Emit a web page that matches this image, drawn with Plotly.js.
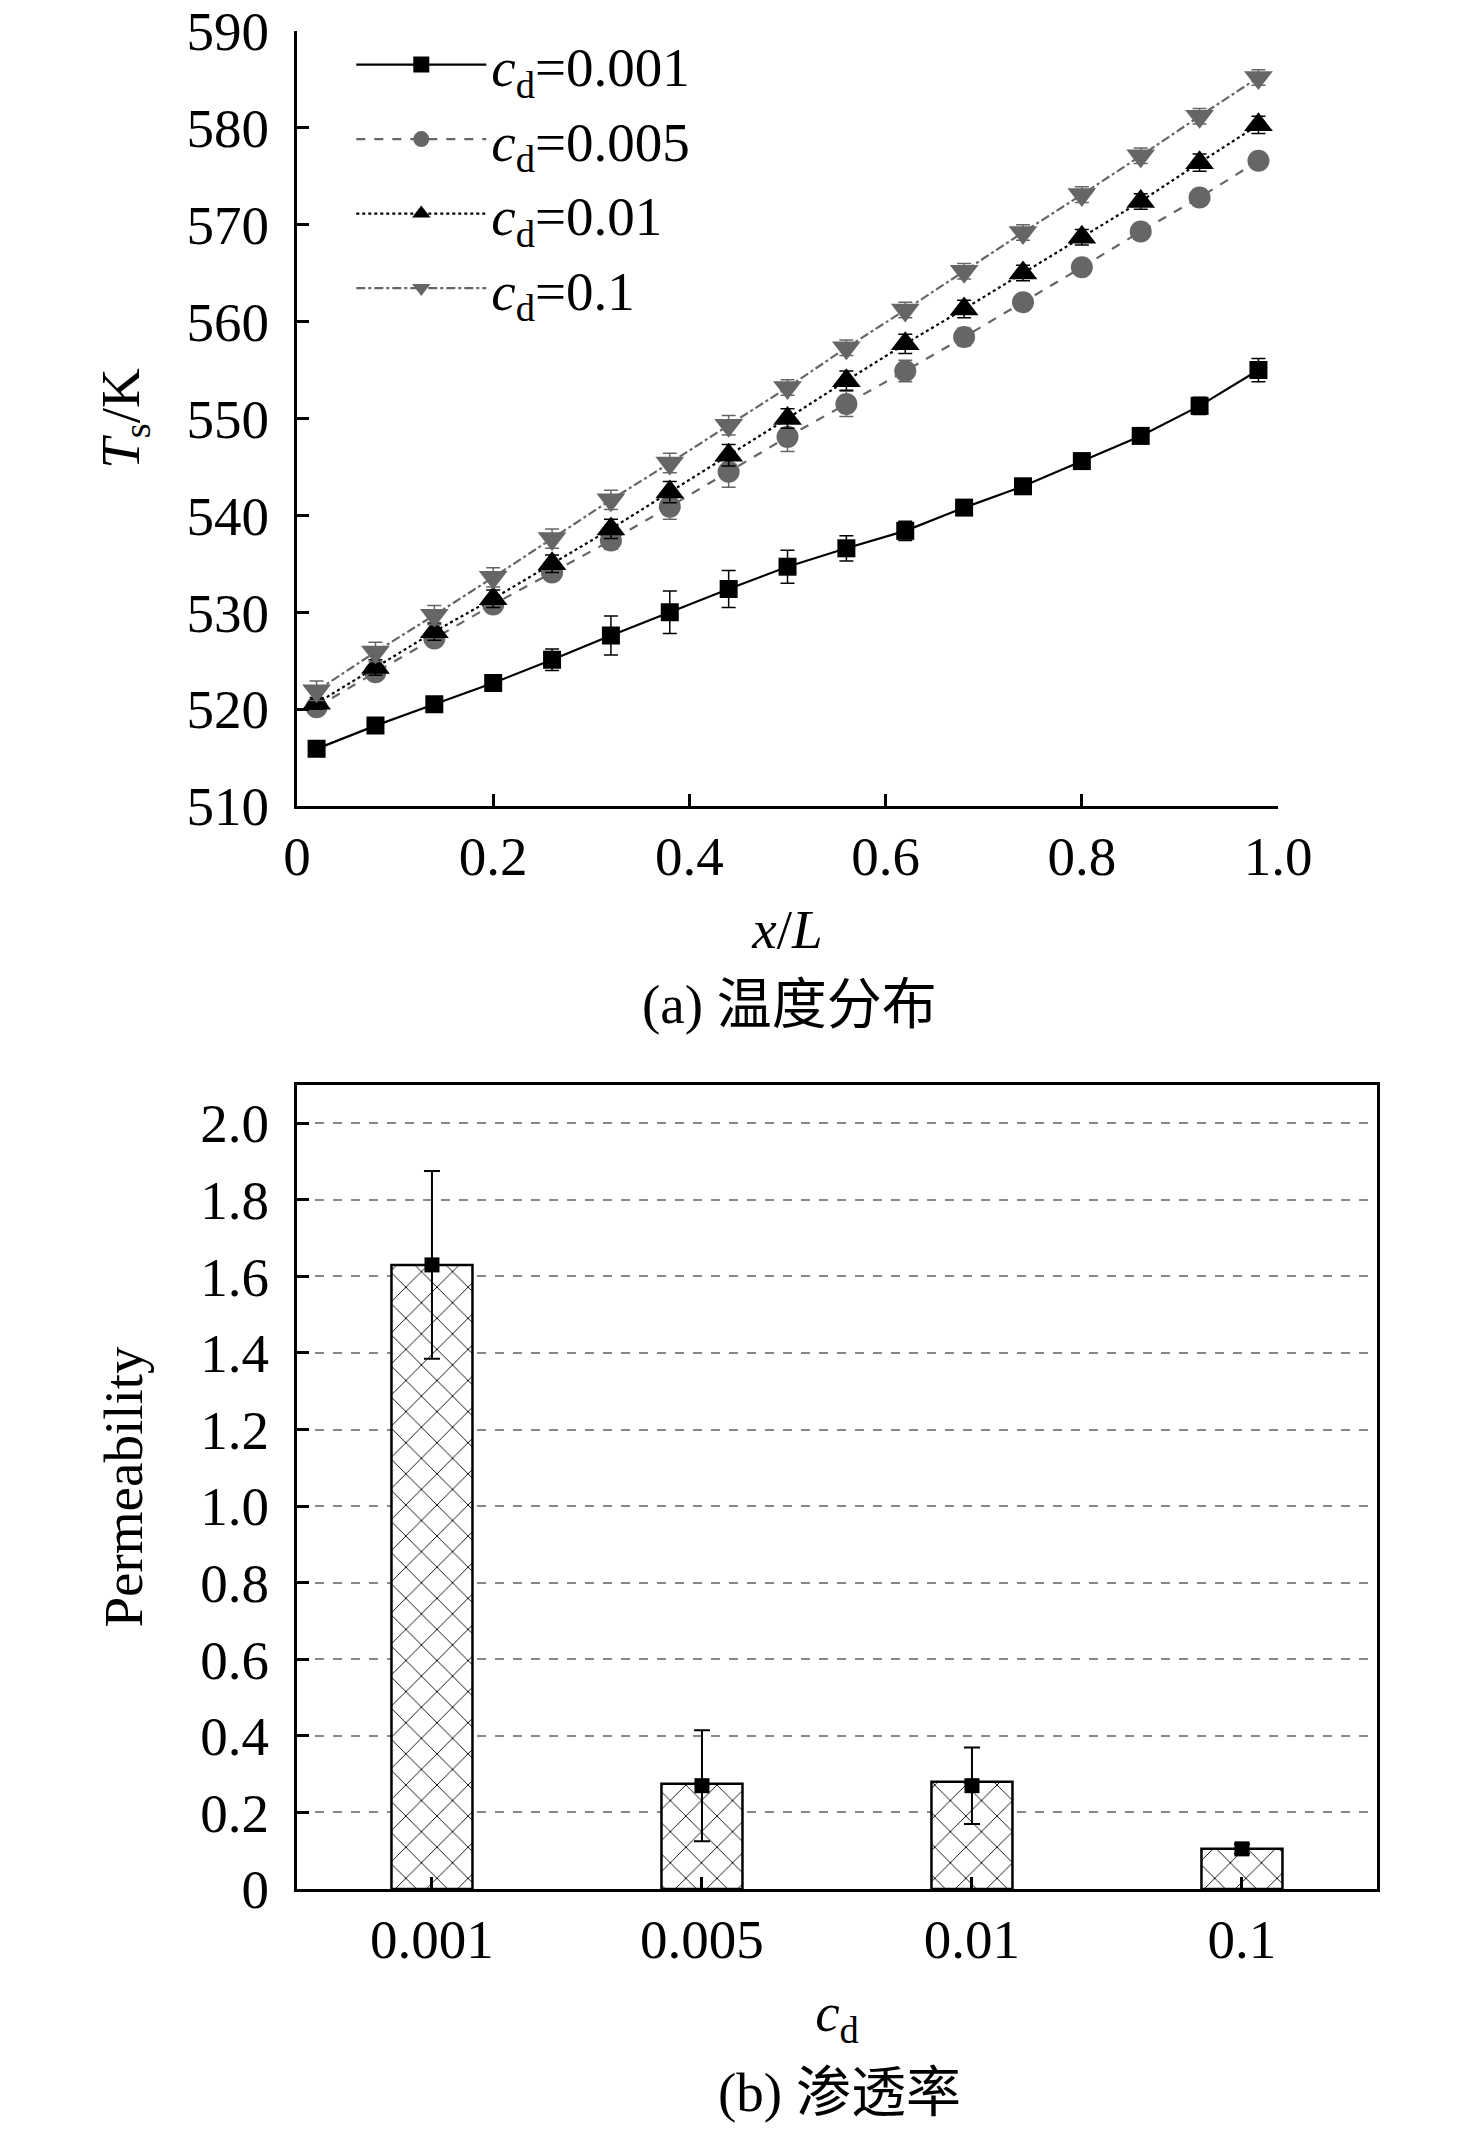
<!DOCTYPE html>
<html>
<head>
<meta charset="utf-8">
<script src="https://cdn.plot.ly/plotly-3.0.1.min.js"></script>
<style>html,body{margin:0;padding:0;background:#fff;}#chart{width:1476px;height:2129px;}</style>
</head>
<body>
<div id="chart"></div>
<script>
// ---------- Data: (a) temperature distribution ----------
const xPos = [0.02,0.08,0.14,0.20,0.26,0.32,0.38,0.44,0.50,0.56,0.62,0.68,0.74,0.80,0.86,0.92,0.98];
const seriesNames = ["<i>c</i><sub>d</sub>=0.001","<i>c</i><sub>d</sub>=0.005","<i>c</i><sub>d</sub>=0.01","<i>c</i><sub>d</sub>=0.1"];
const ts001  = [515.9,518.3,520.5,522.7,525.1,527.6,530.0,532.4,534.7,536.6,538.4,540.8,543.0,545.6,548.2,551.3,555.0];
const ts005  = [520.2,523.8,527.3,530.8,534.1,537.4,540.9,544.5,548.1,551.5,554.9,558.4,562.0,565.6,569.3,572.8,576.6];
const ts01   = [520.6,524.3,528.0,531.4,535.0,538.6,542.4,546.2,550.0,553.9,557.7,561.3,565.0,568.7,572.4,576.4,580.3];
const ts1    = [521.9,525.9,529.7,533.6,537.6,541.6,545.4,549.3,553.2,557.3,561.2,565.2,569.2,573.1,577.1,581.2,585.2];
const err001 = [0.3,0.4,0.4,0.4,1.1,2.0,2.2,1.9,1.7,1.3,1.0,0.6,0.4,0.4,0.5,0.9,1.2];
const err005 = [0.5,0.7,0.8,0.6,0.8,0.9,1.3,1.6,1.5,1.3,1.1,0.9,0.8,0.6,0.5,0.5,0.4];
const err01  = [0.6,0.8,0.9,0.9,0.9,1.0,1.1,1.1,1.0,1.0,1.0,0.9,0.8,0.8,0.8,0.9,0.9];
const err1   = [1.0,1.0,1.0,1.0,1.0,1.0,1.0,1.0,0.8,0.8,0.8,0.8,0.8,0.8,0.8,0.8,0.8];
const xTickVals = [0,0.2,0.4,0.6,0.8,1.0];
const xTickText = ["0","0.2","0.4","0.6","0.8","1.0"];
const yTickVals = [510,520,530,540,550,560,570,580,590];

// ---------- Data: (b) permeability ----------
const cdCats = ["0.001","0.005","0.01","0.1"];
const perm   = [1.63,0.275,0.28,0.105];
const permMean = [1.63,0.27,0.27,0.105];
const permErr  = [0.245,0.145,0.10,0.012];
const pTickVals = [0,0.2,0.4,0.6,0.8,1.0,1.2,1.4,1.6,1.8,2.0];
const pTickText = ["0","0.2","0.4","0.6","0.8","1.0","1.2","1.4","1.6","1.8","2.0"];

const FONT = "Liberation Serif, Noto Sans CJK SC, serif";
const GRAY = "#666666";
const FS = 55;
const styles = [
  {color:"#000000", dash:"solid",   symbol:"square",        size:18, data:ts001, err:err001},
  {color:GRAY,      dash:"dash",    symbol:"circle",        size:22, data:ts005, err:err005},
  {color:"#000000", dash:"dot",     symbol:"triangle-up",   size:25, data:ts01,  err:err01},
  {color:GRAY,      dash:"dashdot", symbol:"triangle-down", size:25, data:ts1,   err:err1}
];

const traces = styles.map((s,i)=>({
  type:"scatter", mode:"lines+markers", x:xPos, y:s.data, name:seriesNames[i],
  xaxis:"x", yaxis:"y",
  line:{color:s.color, dash:s.dash, width:2.2},
  marker:{symbol:s.symbol, size:s.size, color:s.color},
  error_y:{type:"data", array:s.err, visible:true, color:s.color, thickness:1.5, width:7}
}));

traces.push({
  type:"bar", x:cdCats, y:perm, xaxis:"x2", yaxis:"y2", showlegend:false, width:0.3,
  marker:{color:"#ffffff", line:{color:"#000000", width:2.5},
          pattern:{shape:"x", fgcolor:"#000000", bgcolor:"#ffffff", size:22, solidity:0.08}}
});
traces.push({
  type:"scatter", mode:"markers", x:cdCats, y:permMean, xaxis:"x2", yaxis:"y2", showlegend:false,
  marker:{symbol:"square", size:15, color:"#000000"},
  error_y:{type:"data", array:permErr, visible:true, color:"#000000", thickness:2, width:8}
});

const tickFont = {family:FONT, size:FS, color:"#000"};
const titleFont = {family:FONT, size:FS, color:"#000"};
const layout = {
  width:1476, height:2129, margin:{l:0,r:0,t:0,b:0},
  paper_bgcolor:"#fff", plot_bgcolor:"rgba(0,0,0,0)",
  font:{family:FONT, color:"#000"},
  showlegend:true,
  legend:{x:0.238, y:0.9895, xanchor:"left", yanchor:"top", bgcolor:"rgba(0,0,0,0)",
          font:{family:FONT, size:FS, color:"#000"}, itemwidth:130, tracegroupgap:0},
  xaxis:{domain:[0.2012,0.8659], anchor:"y", range:[0,1.0], tickvals:xTickVals, ticktext:xTickText,
         showline:true, linecolor:"#000", linewidth:3, ticks:"inside", ticklen:12, tickwidth:3, tickcolor:"#000",
         showgrid:false, zeroline:false, tickfont:tickFont, ticklabelstandoff:0, ticklabeloverflow:"allow",
         title:{text:"<i>x</i>/<i>L</i>", font:titleFont, standoff:24}},
  yaxis:{domain:[0.6214,0.9855], anchor:"x", range:[510,590], tickvals:yTickVals,
         showline:true, linecolor:"#000", linewidth:3, ticks:"inside", ticklen:12, tickwidth:3, tickcolor:"#000",
         showgrid:false, zeroline:false, tickfont:tickFont, ticklabelstandoff:14, ticklabeloverflow:"allow",
         title:{text:"<i>T</i><sub>s</sub>/K", font:titleFont, standoff:30}},
  xaxis2:{domain:[0.2012,0.9329], anchor:"y2", range:[-0.5,3.5], type:"category",
          showline:true, mirror:true, linecolor:"#000", linewidth:3, ticks:"inside", ticklen:12, tickwidth:3, tickcolor:"#000",
          showgrid:false, zeroline:false, tickfont:tickFont, ticklabelstandoff:0, ticklabeloverflow:"allow",
          title:{text:"<i>c</i><sub>d</sub>", font:titleFont, standoff:24}},
  yaxis2:{domain:[0.1127,0.4904], anchor:"x2", range:[0,2.1], tickvals:pTickVals, ticktext:pTickText,
          showline:true, mirror:true, linecolor:"#000", linewidth:3, ticks:"inside", ticklen:12, tickwidth:3, tickcolor:"#000",
          showgrid:true, gridcolor:"#888888", griddash:"dash", gridwidth:2, zeroline:false, tickfont:tickFont,
          ticklabelstandoff:14, ticklabeloverflow:"allow",
          title:{text:"Permeability", font:titleFont, standoff:40}},
  annotations:[
    {text:"(a) 温度分布", xref:"paper", yref:"paper", x:0.535, y:1-1004/2129, xanchor:"center", yanchor:"middle",
     showarrow:false, font:{family:FONT, size:FS, color:"#000"}},
    {text:"(b) 渗透率", xref:"paper", yref:"paper", x:0.569, y:1-2092/2129, xanchor:"center", yanchor:"middle",
     showarrow:false, font:{family:FONT, size:FS, color:"#000"}}
  ]
};

Plotly.newPlot("chart", traces, layout, {displayModeBar:false, staticPlot:true});
</script>
</body>
</html>
